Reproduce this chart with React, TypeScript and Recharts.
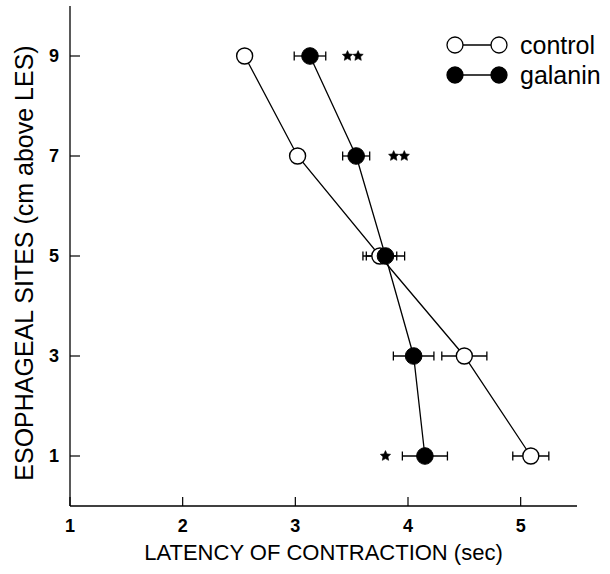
import React from 'react';
import { ScatterChart, Scatter, XAxis, YAxis, ErrorBar, Label } from 'recharts';

// esophageal sites (cm above LES) and latency of contraction (sec)
const sites = [9, 7, 5, 3, 1];
const controlLatency = [2.55, 3.02, 3.75, 4.5, 5.09];
const controlSem = [0.05, 0.05, 0.15, 0.2, 0.16];
const galaninLatency = [3.13, 3.54, 3.8, 4.05, 4.15];
const galaninSem = [0.14, 0.12, 0.17, 0.18, 0.2];

// significance marks
const starSites = [9, 7, 1];
const starLatency = [3.51, 3.92, 3.8];
const starMarks = ['**', '**', '*'];

const xTicks = [1, 2, 3, 4, 5];
const yTicks = [1, 3, 5, 7, 9];
const seriesNames = ['control', 'galanin'];

const FONT = '"Liberation Sans", Arial, Helvetica, sans-serif';

const controlData = sites.map((y, i) => ({ y, x: controlLatency[i], sem: controlSem[i] }));
const galaninData = sites.map((y, i) => ({ y, x: galaninLatency[i], sem: galaninSem[i] }));
const starData = starSites.map((y, i) => ({ y, x: starLatency[i], mark: starMarks[i] }));

const openDot = (p: any) => (
  <circle cx={p.cx} cy={p.cy} r={8} fill="#fff" stroke="#000" strokeWidth={1.4} />
);
const filledDot = (p: any) => (
  <circle cx={p.cx} cy={p.cy} r={8.3} fill="#000" stroke="#000" strokeWidth={1} />
);

const starPoints = (cx: number, cy: number, ro: number, ri: number) => {
  const pts: string[] = [];
  for (let k = 0; k < 10; k++) {
    const r = k % 2 === 0 ? ro : ri;
    const a = -Math.PI / 2 + (k * Math.PI) / 5;
    pts.push(`${cx + r * Math.cos(a)},${cy + r * Math.sin(a)}`);
  }
  return pts.join(' ');
};

const StarShape = (p: any) => {
  const n = p.payload.mark.length;
  return (
    <g>
      {Array.from({ length: n }).map((_, i) => (
        <polygon key={i} points={starPoints(p.cx + (i - (n - 1) / 2) * 10.6, p.cy, 5.4, 2.6)}
          fill="#000" stroke="#000" strokeWidth={0.6} strokeLinejoin="round" />
      ))}
    </g>
  );
};

const XTick = (p: any) => (
  <g>
    <line x1={p.x} y1={p.y - 13} x2={p.x} y2={p.y - 22} stroke="#000" strokeWidth={1.2} />
    <text x={p.x} y={p.y} dy="0.72em" textAnchor="middle" fontFamily={FONT} fontSize={18} fontWeight="bold" fill="#000">
      {p.payload.value}
    </text>
  </g>
);

const YTick = (p: any) => (
  <g>
    <line x1={p.x + 11} y1={p.y} x2={p.x + 21} y2={p.y} stroke="#000" strokeWidth={1.2} />
    <text x={p.x} y={p.y} dy="0.36em" textAnchor="end" fontFamily={FONT} fontSize={18} fontWeight="bold" fill="#000">
      {p.payload.value}
    </text>
  </g>
);

const YTitle = (p: any) => {
  const vb = p.viewBox;
  const cx = vb.x + 14;
  const cy = vb.y + vb.height / 2 + 7;
  return (
    <text x={cx} y={cy} transform={`rotate(-90 ${cx} ${cy})`} textAnchor="middle" dominantBaseline="central"
      fontFamily={FONT} fontSize={25} fill="#000">
      ESOPHAGEAL SITES (cm above LES)
    </text>
  );
};

const LegendBox = () => (
  <svg width={170} height={70} style={{ position: 'absolute', left: 440, top: 25 }}>
    {seriesNames.map((name, i) => {
      const y = 20 + i * 30;
      const filled = i === 1;
      return (
        <g key={name}>
          <line x1={15} y1={y} x2={59} y2={y} stroke="#000" strokeWidth={1.3} />
          <circle cx={15} cy={y} r={8} fill={filled ? '#000' : '#fff'} stroke="#000" strokeWidth={1.3} />
          <circle cx={59} cy={y} r={8} fill={filled ? '#000' : '#fff'} stroke="#000" strokeWidth={1.3} />
          <text x={80} y={y} dy="0.35em" fontFamily={FONT} fontSize={25} fill="#000">{name}</text>
        </g>
      );
    })}
  </svg>
);

export default function App() {
  return (
    <div style={{ position: 'absolute', left: 0, top: 0, width: 610, height: 574, background: '#fff' }}>
      <ScatterChart width={610} height={574} margin={{ top: 6, right: 33, bottom: 0, left: 10 }}>
        <XAxis
          type="number"
          dataKey="x"
          domain={[1, 5.5]}
          ticks={xTicks}
          tick={XTick}
          tickSize={0}
          tickMargin={13}
          tickLine={false}
          height={68}
          axisLine={{ stroke: '#000', strokeWidth: 1.3 }}
          allowDataOverflow
        >
          <Label value="LATENCY OF CONTRACTION (sec)" position="insideBottom" offset={14}
            style={{ fontFamily: FONT, fontSize: 22, fill: '#000' }} />
        </XAxis>
        <YAxis
          type="number"
          dataKey="y"
          domain={[0, 10]}
          ticks={yTicks}
          tick={YTick}
          tickSize={0}
          tickMargin={11}
          tickLine={false}
          width={60}
          axisLine={{ stroke: '#000', strokeWidth: 1.3 }}
          allowDataOverflow
        >
          <Label content={YTitle} />
        </YAxis>
        <Scatter data={controlData} shape={openDot} line={{ stroke: '#000', strokeWidth: 1.3 }} isAnimationActive={false}>
          <ErrorBar dataKey="sem" direction="x" width={4.5} stroke="#000" strokeWidth={1.3} isAnimationActive={false} />
        </Scatter>
        <Scatter data={galaninData} shape={filledDot} line={{ stroke: '#000', strokeWidth: 1.3 }} isAnimationActive={false}>
          <ErrorBar dataKey="sem" direction="x" width={4.5} stroke="#000" strokeWidth={1.3} isAnimationActive={false} />
        </Scatter>
        <Scatter data={starData} shape={StarShape} isAnimationActive={false} />
      </ScatterChart>
      <LegendBox />
    </div>
  );
}
